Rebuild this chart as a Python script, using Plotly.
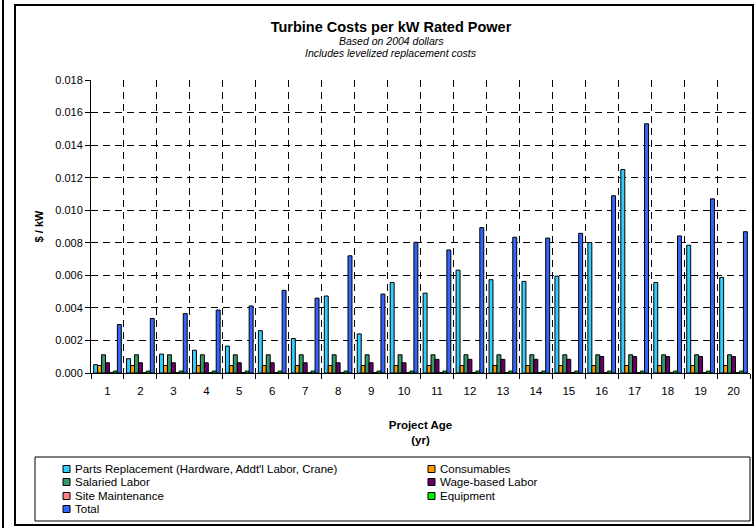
import plotly.graph_objects as go

# ---------------- data ----------------
years = [str(i) for i in range(1, 21)]

parts_replacement = [0.00051, 0.00088, 0.00116, 0.00140, 0.00165, 0.00260, 0.00212, 0.00473, 0.00240, 0.00556,
                     0.00491, 0.00632, 0.00573, 0.00563, 0.00595, 0.00801, 0.01250, 0.00556, 0.00785, 0.00587]
consumables = [0.00046, 0.00046, 0.00046, 0.00046, 0.00046, 0.00046, 0.00046, 0.00046, 0.00046, 0.00046,
               0.00046, 0.00046, 0.00046, 0.00046, 0.00046, 0.00046, 0.00046, 0.00046, 0.00046, 0.00046]
salaried_labor = [0.00112, 0.00112, 0.00112, 0.00112, 0.00112, 0.00112, 0.00112, 0.00112, 0.00112, 0.00112,
                  0.00112, 0.00112, 0.00112, 0.00112, 0.00112, 0.00112, 0.00112, 0.00112, 0.00112, 0.00112]
wage_based_labor = [0.00063, 0.00063, 0.00063, 0.00063, 0.00063, 0.00063, 0.00063, 0.00063, 0.00063, 0.00063,
                    0.00084, 0.00084, 0.00084, 0.00084, 0.00084, 0.00101, 0.00101, 0.00101, 0.00101, 0.00101]
site_maintenance = [0.00002, 0.00002, 0.00002, 0.00002, 0.00002, 0.00002, 0.00002, 0.00002, 0.00002, 0.00002,
                    0.00002, 0.00002, 0.00002, 0.00002, 0.00002, 0.00002, 0.00002, 0.00002, 0.00002, 0.00002]
equipment = [0.00012, 0.00012, 0.00012, 0.00012, 0.00012, 0.00012, 0.00012, 0.00012, 0.00012, 0.00012,
             0.00012, 0.00012, 0.00012, 0.00012, 0.00012, 0.00012, 0.00012, 0.00012, 0.00012, 0.00012]
total = [0.00298, 0.00335, 0.00365, 0.00387, 0.00412, 0.00508, 0.00460, 0.00720, 0.00485, 0.00803,
         0.00756, 0.00893, 0.00834, 0.00829, 0.00858, 0.01089, 0.01531, 0.00842, 0.01070, 0.00868]

series_names = ["Parts Replacement (Hardware, Addt'l Labor, Crane)", "Consumables", "Salaried Labor",
                "Wage-based Labor", "Site Maintenance", "Equipment", "Total"]
series_values = [parts_replacement, consumables, salaried_labor, wage_based_labor,
                 site_maintenance, equipment, total]
series_colors = ["#33CCFF", "#FF9900", "#339966", "#660066", "#FF8080", "#00EE00", "#3366FF"]

y_ticks = [0.000, 0.002, 0.004, 0.006, 0.008, 0.010, 0.012, 0.014, 0.016, 0.018]

# ---------------- layout geometry (pixels) ----------------
W, H = 756, 528
L, R, T, B = 91, 750, 80, 373
PW, PH = R - L, B - T


def px(x):
    return (x - L) / PW


def py(y):
    return (B - y) / PH


FONT = "Arial, Liberation Sans, sans-serif"

fig = go.Figure()
for name, vals, col in zip(series_names, series_values, series_colors):
    fig.add_trace(go.Bar(x=years, y=vals, name=name, marker=dict(color=col, line=dict(color="#000000", width=1)),
                         showlegend=False))

shapes = []
annotations = []

# outer chart frame and neighbour chart edge
shapes.append(dict(type="rect", xref="paper", yref="paper", x0=px(15), x1=px(753), y0=py(525), y1=py(5),
                   line=dict(color="#000000", width=2), layer="below"))
shapes.append(dict(type="line", xref="paper", yref="paper", x0=px(3), x1=px(3), y0=py(528), y1=py(0),
                   line=dict(color="#000000", width=2)))

# legend box
shapes.append(dict(type="rect", xref="paper", yref="paper", x0=px(35), x1=px(750), y0=py(521), y1=py(457),
                   line=dict(color="#000000", width=1)))

leg_pos = [(63, 469), (428, 469), (63, 482), (428, 482), (63, 496), (428, 496), (63, 509)]
for (lx, ly), name, col in zip(leg_pos, series_names, series_colors):
    shapes.append(dict(type="rect", xref="paper", yref="paper", x0=px(lx), x1=px(lx + 7), y0=py(ly + 3.5),
                       y1=py(ly - 3.5), fillcolor=col, line=dict(color="#000000", width=1)))
    annotations.append(dict(text=name.replace("'", "&#39;"), xref="paper", yref="paper", x=px(lx + 10), y=py(ly),
                            xanchor="left", yanchor="middle", showarrow=False,
                            font=dict(family=FONT, size=11.5, color="#000000")))

# subtitles
annotations.append(dict(text="<i>Based on 2004 dollars</i>", xref="paper", yref="paper", x=px(391), y=py(41),
                        xanchor="center", yanchor="middle", showarrow=False,
                        font=dict(family=FONT, size=10.5, color="#000000")))
annotations.append(dict(text="<i>Includes levelized replacement costs</i>", xref="paper", yref="paper", x=px(391),
                        y=py(53), xanchor="center", yanchor="middle", showarrow=False,
                        font=dict(family=FONT, size=10.5, color="#000000")))

fig.update_layout(
    width=W, height=H,
    margin=dict(l=L, r=W - R, t=T, b=H - B, pad=0),
    paper_bgcolor="#FFFFFF", plot_bgcolor="#FFFFFF",
    barmode="group", bargap=0.16, bargroupgap=0.0,
    font=dict(family=FONT, size=11, color="#000000"),
    title=dict(text="<b>Turbine Costs per kW Rated Power</b>", x=px(391), xref="paper", xanchor="center",
               y=1 - 27 / H, yref="container", yanchor="middle",
               font=dict(family=FONT, size=14.5, color="#000000")),
    shapes=shapes, annotations=annotations,
    xaxis=dict(type="category", tickson="boundaries", ticks="outside", ticklen=5, tickcolor="#000000",
               showline=True, linecolor="#000000", linewidth=1,
               showgrid=True, gridcolor="#000000", gridwidth=1, griddash="7px,5px",
               tickfont=dict(family=FONT, size=11.5, color="#000000"), ticklabelstandoff=7,
               title=dict(text="<b>Project Age</b><br><b>(yr)</b>", standoff=25,
                          font=dict(family=FONT, size=11.5, color="#000000")),
               mirror=False, zeroline=False),
    yaxis=dict(range=[0, 0.018], tickvals=y_ticks, tickformat=".3f", ticks="outside", ticklen=5,
               tickcolor="#000000", showline=True, linecolor="#000000", linewidth=1,
               showgrid=True, gridcolor="#000000", gridwidth=1, griddash="7px,5px",
               tickfont=dict(family=FONT, size=11, color="#000000"),
               title=dict(text="<b>$ / kW</b>", standoff=9, font=dict(family=FONT, size=11, color="#000000")),
               zeroline=False),
)

fig.write_html("out.html", config={"displayModeBar": False},
               post_script="document.body.style.margin='0';document.body.style.overflow='hidden';")
